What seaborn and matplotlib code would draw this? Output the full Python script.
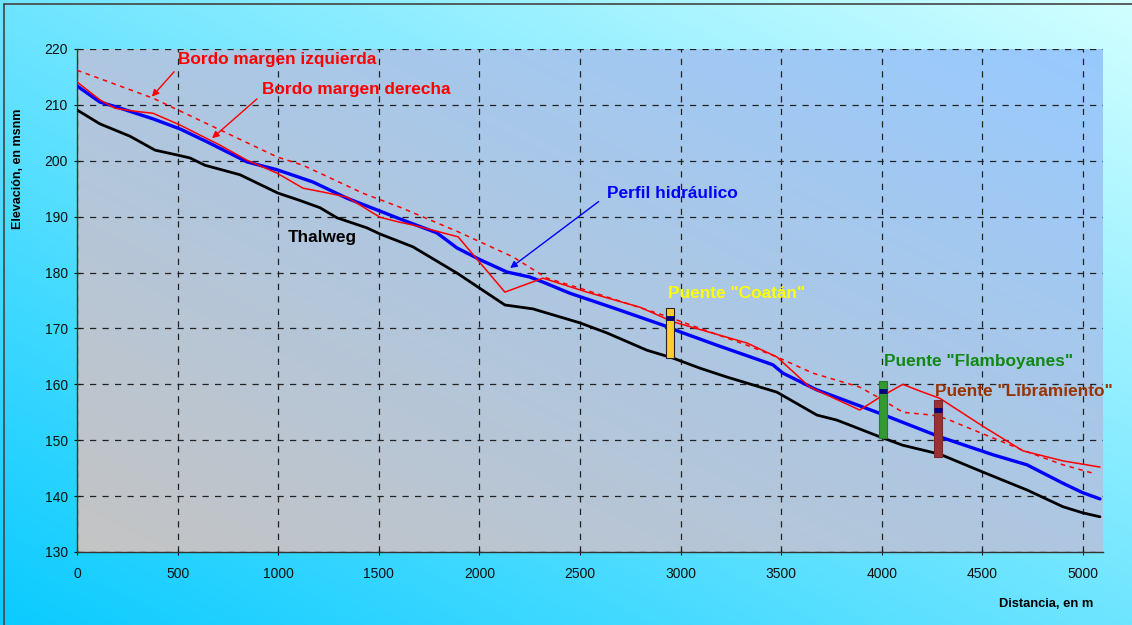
import numpy as np
import pandas as pd
import matplotlib
matplotlib.use("Agg")
import matplotlib.pyplot as plt
import seaborn as sns
from matplotlib.colors import to_rgb
from matplotlib.lines import Line2D

# ---------------- data ----------------
thalweg_x = [0, 114, 263, 388, 502, 562, 636, 810, 1000, 1100, 1208, 1292, 1441, 1506, 1670, 1889,
             2127, 2266, 2500, 2634, 2833, 2962, 3096, 3231, 3479, 3678, 3777, 3842, 3991, 4105,
             4289, 4503, 4722, 4901, 5000, 5085]
thalweg_y = [209.1, 206.6, 204.4, 201.9, 201.0, 200.5, 199.2, 197.5, 194.2, 193.0, 191.6, 189.8, 188.0,
             186.9, 184.6, 179.9, 174.2, 173.5, 171.0, 169.2, 166.1, 164.7, 162.9, 161.3, 158.6, 154.5,
             153.6, 152.7, 150.6, 149.1, 147.5, 144.3, 141.1, 138.1, 137.0, 136.3]

hidraulico_x = [0, 114, 199, 378, 512, 646, 845, 994, 1173, 1342, 1506, 1605, 1789, 1889, 2003, 2137,
                2251, 2316, 2450, 2664, 2912, 2997, 3181, 3459, 3509, 3678, 3842, 3991, 4289, 4553,
                4722, 4901, 5000, 5085]
hidraulico_y = [213.4, 210.5, 209.6, 207.5, 205.7, 203.4, 199.8, 198.4, 196.2, 193.3, 191.0, 189.6,
                187.1, 184.4, 182.3, 180.1, 179.2, 178.3, 176.3, 173.7, 170.6, 169.4, 167.0, 163.5,
                162.0, 159.0, 156.8, 154.8, 150.6, 147.4, 145.6, 142.3, 140.6, 139.5]

derecha_x = [0, 114, 189, 278, 378, 512, 611, 711, 845, 994, 1123, 1223, 1342, 1506, 1605, 1670, 1894,
             2127, 2316, 2535, 2798, 2962, 3330, 3479, 3643, 3891, 3991, 4105, 4190, 4289, 4503, 4702,
             4901, 5085]
derecha_y = [214.1, 210.9, 209.4, 208.9, 208.5, 206.4, 204.6, 202.8, 200.1, 197.8, 195.1, 194.4, 193.5,
             189.9, 189.0, 188.5, 186.4, 176.5, 179.0, 176.5, 173.8, 171.2, 167.4, 164.9, 159.5, 155.4,
             157.7, 160.0, 158.8, 157.5, 152.5, 148.1, 146.3, 145.2]

izquierda_x = [0, 378, 994, 1123, 1421, 1605, 1894, 2167, 2336, 2500, 2912, 3330, 3479, 3658, 3891,
               3991, 4105, 4250, 4324, 4702, 4901, 5060]
izquierda_y = [216.2, 211.2, 200.7, 199.2, 194.2, 191.7, 187.3, 182.8, 179.0, 177.2, 172.4, 167.0, 164.9,
               162.0, 159.5, 157.5, 155.0, 154.5, 153.8, 148.2, 145.6, 144.0]

puentes = ['Puente "Coatán"', 'Puente "Flamboyanes"', 'Puente "Libramiento"']
puente_x = [2950, 4005, 4280]
puente_bottom = [164.7, 150.4, 147.0]
puente_top = [173.7, 160.6, 157.2]
puente_nivel = [171.9, 158.8, 155.4]

x_ticks = [0, 500, 1000, 1500, 2000, 2500, 3000, 3500, 4000, 4500, 5000]
y_ticks = [130, 140, 150, 160, 170, 180, 190, 200, 210, 220]

# ---------------- style ----------------
sns.set_style("ticks")
plt.rcParams['font.family'] = ['Liberation Sans', 'DejaVu Sans']

W, H = 1132, 625
fig = plt.figure(figsize=(W / 100, H / 100), dpi=100)


def gradient(c0, c1, n=256):
    c0 = np.array(to_rgb(c0)); c1 = np.array(to_rgb(c1))
    u = np.linspace(0, 1, n)
    xx, yy = np.meshgrid(u, u[::-1])
    t = (xx + yy) / 2.0
    return c0[None, None, :] * (1 - t[..., None]) + c1[None, None, :] * t[..., None]


# figure background gradient
bg = fig.add_axes([0, 0, 1, 1], zorder=-10)
bg.imshow(gradient('#0BCBFF', '#D2FFFF'), extent=[0, 1, 0, 1], aspect='auto')
bg.set_axis_off()
fig.add_artist(Line2D([4 / W, 4 / W], [0, 1 - 4 / H], color='#444444', lw=1.2))
fig.add_artist(Line2D([4 / W, 1], [1 - 4 / H, 1 - 4 / H], color='#444444', lw=1.2))

ax = fig.add_axes([77 / W, 1 - 552 / H, (1103 - 77) / W, (552 - 49) / H])
ax.imshow(gradient('#C4C4C4', '#98CAFF'), extent=[0, 1, 0, 1], transform=ax.transAxes,
          aspect='auto', zorder=0)

# ---------------- lines ----------------
sns.lineplot(x=thalweg_x, y=thalweg_y, ax=ax, color='black', lw=2.0, sort=False, estimator=None, zorder=3)
sns.lineplot(x=izquierda_x, y=izquierda_y, ax=ax, color='#FF0000', lw=1.1, sort=False, estimator=None,
             zorder=3, linestyle=(0, (3, 3)))
sns.lineplot(x=hidraulico_x, y=hidraulico_y, ax=ax, color='#0000FF', lw=2.4, sort=False, estimator=None, zorder=4)
sns.lineplot(x=derecha_x, y=derecha_y, ax=ax, color='#FF0000', lw=1.1, sort=False, estimator=None, zorder=5)

# bridges
bar_colors = ['#FFCC33', '#339933', '#993333']
edge_colors = ['#222222', '#2A7A2A', '#7A2A2A']
for xb, b, t, lv, fc, ec in zip(puente_x, puente_bottom, puente_top, puente_nivel, bar_colors, edge_colors):
    ax.bar(xb, t - b, bottom=b, width=40, color=fc, edgecolor=ec, linewidth=0.8, zorder=6)
    ax.plot([xb], [lv], marker='_', markersize=6, mew=3.5, color='#000080', zorder=7)

# ---------------- axes ----------------
ax.set_xlim(0, 5100)
ax.set_ylim(130, 220)
ax.set_xticks(x_ticks)
ax.set_yticks(y_ticks)
ax.tick_params(axis='both', direction='inout', length=5, width=0.8, labelsize=10,
               colors='#111111', pad=4)
ax.tick_params(axis='x', pad=8)
ax.grid(True, color='#222222', linestyle=(0, (5, 5)), linewidth=0.9)
for s in ['top', 'right']:
    ax.spines[s].set_visible(False)
for s in ['left', 'bottom']:
    ax.spines[s].set_color('#333333')
    ax.spines[s].set_linewidth(1.0)
ax.set_xlabel('')
ax.set_ylabel('')

fig.text(18 / W, 1 - 169 / H, 'Elevación, en msnm', rotation=90, ha='center', va='center',
         fontsize=9, fontweight='bold', color='black')
fig.text(1093 / W, 1 - 604 / H, 'Distancia, en m', ha='right', va='center',
         fontsize=9.3, fontweight='bold', color='black')

# ---------------- annotations ----------------
fs = 12.4
ax.text(500, 218.2, 'Bordo margen izquierda', color='#FF0000', fontsize=fs, fontweight='bold',
        ha='left', va='center', zorder=8)
ax.annotate('', xy=(363, 211.1), xytext=(492, 216.3),
            arrowprops=dict(arrowstyle='-|>', color='#FF0000', lw=1.0, mutation_scale=10), zorder=8)
ax.text(919, 212.8, 'Bordo margen derecha', color='#FF0000', fontsize=fs, fontweight='bold',
        ha='left', va='center', zorder=8)
ax.annotate('', xy=(661, 203.7), xytext=(905, 211.4),
            arrowprops=dict(arrowstyle='-|>', color='#FF0000', lw=1.0, mutation_scale=10), zorder=8)
ax.text(2634, 194.2, 'Perfil hidráulico', color='#0000FF', fontsize=fs, fontweight='bold',
        ha='left', va='center', zorder=8)
ax.annotate('', xy=(2142, 180.5), xytext=(2604, 193.0),
            arrowprops=dict(arrowstyle='-|>', color='#0000FF', lw=1.0, mutation_scale=10), zorder=8)
ax.text(1049, 186.2, 'Thalweg', color='black', fontsize=fs, fontweight='bold',
        ha='left', va='center', zorder=8)

label_pos = [(2937, 176.2), (4011, 164.0), (4264, 158.8)]
label_cols = ['#FFFF00', '#118811', '#993300']
for name, (lx, ly), c in zip(puentes, label_pos, label_cols):
    ax.text(lx, ly, name, color=c, fontsize=fs, fontweight='bold', ha='left', va='center', zorder=8)

fig.savefig('out.png', dpi=100)
